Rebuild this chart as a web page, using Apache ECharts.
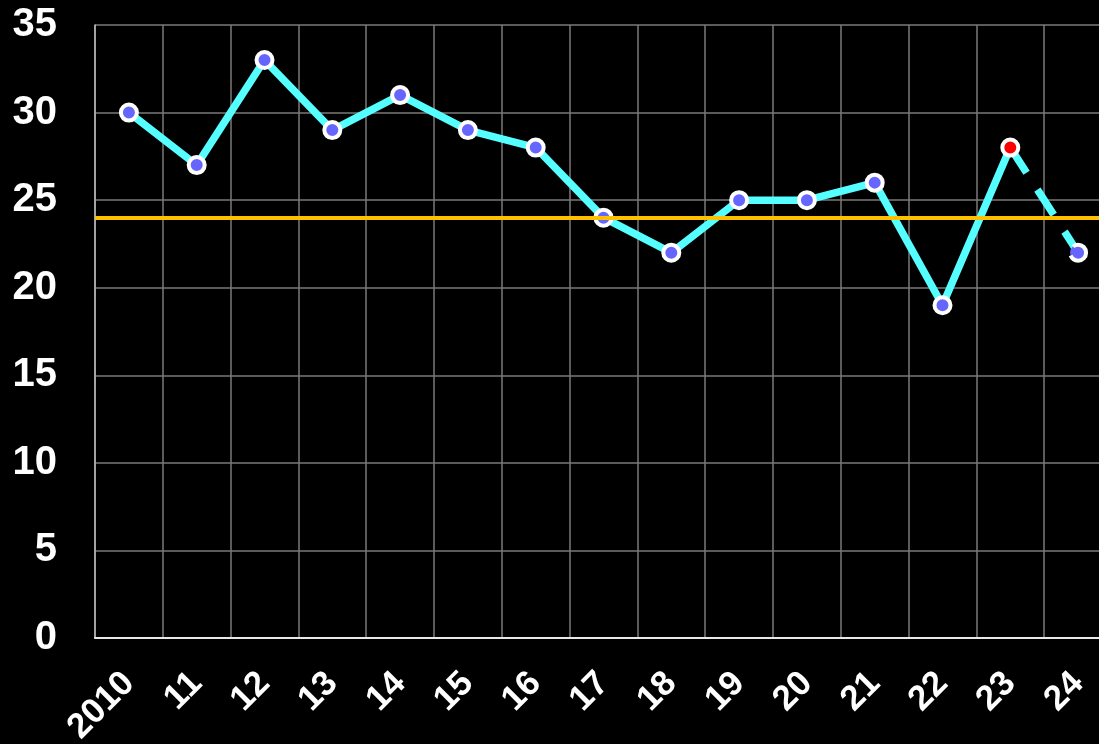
<!DOCTYPE html>
<html>
<head>
<meta charset="utf-8">
<script src="https://cdn.jsdelivr.net/npm/echarts@6/dist/echarts.min.js"></script>
<style>html,body{margin:0;padding:0;background:#000;}#c{width:1099px;height:744px;}</style>
</head>
<body>
<div id="c"></div>
<script>
const categories = ['2010','11','12','13','14','15','16','17','18','19','20','21','22','23','24'];
const values = [30,27,33,29,31,29,28,24,22,25,25,26,19,28,22];
const referenceValue = 24;
const yTicks = {min: 0, max: 35, interval: 5};

const n = values.length;
const solidData = values.map((v, i) => i < n - 1 ? v : null);
const dashedData = values.map((v, i) => i >= n - 2 ? v : null);

const chart = echarts.init(document.getElementById('c'), null, {renderer: 'canvas'});
const font = '"Liberation Sans", Arial, sans-serif';
chart.setOption({
  backgroundColor: '#000',
  animation: false,
  grid: {left: 95, top: 25, height: 613, width: 1017, containLabel: false, outerBoundsMode: 'none'},
  xAxis: {
    type: 'category',
    data: categories,
    boundaryGap: true,
    axisLine: {show: true, lineStyle: {color: '#e8e8e8', width: 2}},
    axisTick: {show: false},
    splitLine: {show: true, lineStyle: {color: '#7a7a7a', width: 1.5}},
    axisLabel: {color: '#fff', fontSize: 35, fontWeight: 'bold', fontFamily: font, rotate: 45, margin: 40, interval: 0}
  },
  yAxis: {
    type: 'value',
    min: yTicks.min, max: yTicks.max, interval: yTicks.interval,
    axisLine: {show: true, lineStyle: {color: '#bbbbbb', width: 1.5}},
    axisTick: {show: false},
    splitLine: {show: true, lineStyle: {color: '#7a7a7a', width: 1.5}},
    axisLabel: {color: '#fff', fontSize: 40, fontWeight: 'bold', fontFamily: font, margin: 38}
  },
  series: [
    {
      type: 'line',
      data: dashedData.map((v, i) => {
        if (v === null) return null;
        if (i === n - 1) return {value: v, itemStyle: {color: '#6666ff', borderColor: '#fff', borderWidth: 4, borderType: [22, 10]}};
        return {value: v, symbol: 'none'};
      }),
      lineStyle: {color: '#55ffff', width: 7.5, type: [30, 20]},
      symbol: 'circle', symbolSize: 16,
      itemStyle: {color: '#6666ff', borderColor: '#fff', borderWidth: 4},
      z: 2
    },
    {
      type: 'line',
      data: solidData.map((v, i) => {
        if (v === null) return null;
        if (i === n - 2) return {value: v, itemStyle: {color: '#ff0000', borderColor: '#fff', borderWidth: 4}};
        return v;
      }),
      lineStyle: {color: '#55ffff', width: 7.5},
      symbol: 'circle', symbolSize: 16, showAllSymbol: true,
      itemStyle: {color: '#6666ff', borderColor: '#fff', borderWidth: 4},
      z: 3
    },
    {
      type: 'line',
      data: [],
      z: 10,
      markLine: {
        silent: true,
        symbol: 'none',
        label: {show: false},
        lineStyle: {color: '#ffc000', width: 4, type: 'solid'},
        data: [{yAxis: referenceValue}],
        z: 10
      }
    }
  ]
});
</script>
</body>
</html>
